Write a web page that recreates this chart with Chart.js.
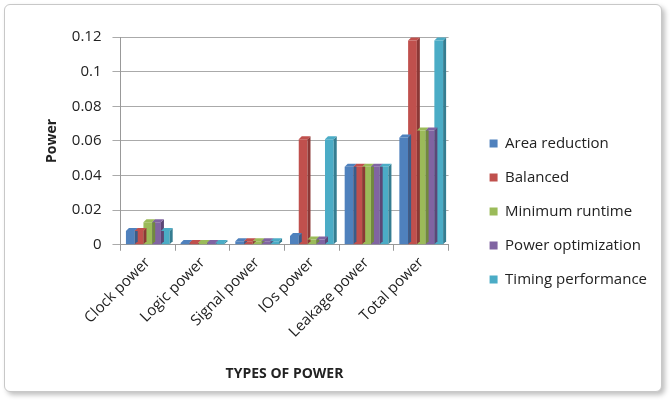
<!DOCTYPE html>
<html>
<head>
<meta charset="utf-8">
<script src="https://cdn.jsdelivr.net/npm/chart.js@4"></script>
<style>
  html, body { margin: 0; padding: 0; background: #fff; }
  #wrap {
    position: absolute; left: 4px; top: 4px; width: 656px; height: 386px;
    border: 1px solid #c8c8c8; border-radius: 6px;
    box-shadow: 3px 3px 5px rgba(0,0,0,0.25);
    background: #fff;
  }
  canvas { position: absolute; left: 0; top: 0; }
</style>
</head>
<body>
<div id="wrap"><canvas id="chart" width="656" height="386"></canvas></div>
<script>
const categories = ['Clock power', 'Logic power', 'Signal power', 'IOs power', 'Leakage power', 'Total power'];
const seriesNames = ['Area reduction', 'Balanced', 'Minimum runtime', 'Power optimization', 'Timing performance'];
const areaReduction = [0.008, 0.001, 0.002, 0.005, 0.045, 0.062];
const balanced = [0.008, 0.001, 0.002, 0.061, 0.045, 0.118];
const minimumRuntime = [0.013, 0.001, 0.002, 0.003, 0.045, 0.066];
const powerOptimization = [0.013, 0.001, 0.002, 0.003, 0.045, 0.066];
const timingPerformance = [0.008, 0.001, 0.002, 0.061, 0.045, 0.118];
const colors = ['#4f81bd', '#c0504d', '#9bbb59', '#8064a2', '#4bacc6'];
const darker = ['#385d8a', '#8c3836', '#71893f', '#5c4776', '#357d91'];

const allSeries = [areaReduction, balanced, minimumRuntime, powerOptimization, timingPerformance];
const font = 'Open Sans';

// fake 3D: draw a dark side and top on each bar
const depth3d = {
  id: 'depth3d',
  afterDatasetsDraw(chart) {
    const ctx = chart.ctx;
    const d = 3;
    chart.data.datasets.forEach((ds, i) => {
      chart.getDatasetMeta(i).data.forEach(bar => {
        const left = bar.x - bar.width / 2, right = bar.x + bar.width / 2;
        const top = bar.y, bottom = bar.base;
        ctx.save();
        ctx.fillStyle = darker[i];
        ctx.beginPath();
        ctx.moveTo(right, bottom);
        ctx.lineTo(right + d, bottom - d);
        ctx.lineTo(right + d, top - d);
        ctx.lineTo(right, top);
        ctx.closePath();
        ctx.fill();
        ctx.fillStyle = colors[i];
        ctx.beginPath();
        ctx.moveTo(left, top);
        ctx.lineTo(left + d, top - d);
        ctx.lineTo(right + d, top - d);
        ctx.lineTo(right, top);
        ctx.closePath();
        ctx.fill();
        ctx.restore();
      });
    });
  }
};

new Chart(document.getElementById('chart'), {
  type: 'bar',
  data: {
    labels: categories,
    datasets: allSeries.map((vals, i) => ({
      label: seriesNames[i],
      data: vals,
      backgroundColor: colors[i],
      borderWidth: 0
    }))
  },
  options: {
    responsive: false,
    animation: false,
    layout: { padding: { left: 35, right: 4, top: 32, bottom: 5 } },
    datasets: { bar: { categoryPercentage: 0.8, barPercentage: 1.0 } },
    plugins: {
      legend: {
        position: 'right',
        maxWidth: 260,
        labels: {
          boxWidth: 8, boxHeight: 8, padding: 19,
          color: '#222', font: { family: font, size: 15 }
        }
      },
      tooltip: { enabled: false }
    },
    scales: {
      x: {
        grid: { offset: true, drawOnChartArea: false, color: '#999', tickLength: 6 },
        border: { color: '#999' },
        ticks: { maxRotation: 45, minRotation: 45, color: '#222', font: { family: font, size: 15 } },
        title: { display: true, text: 'TYPES OF POWER', color: '#222', font: { family: font, size: 14, weight: 'bold' }, padding: { top: 21 } }
      },
      y: {
        min: 0, max: 0.12,
        ticks: {
          stepSize: 0.02, color: '#222', font: { family: font, size: 15 }, padding: 11,
          callback: v => String(+v.toFixed(2))
        },
        grid: { color: '#aaa', tickLength: 8 },
        border: { color: '#999' },
        title: { display: true, text: 'Power', color: '#222', font: { family: font, size: 14, weight: 'bold' }, padding: { bottom: 0 } }
      },
      // empty axis on the right, only to leave a gap before the legend
      gap: {
        type: 'linear', position: 'right',
        grid: { display: false }, border: { display: false },
        ticks: { display: false },
        afterFit: scale => { scale.width = 22; }
      }
    }
  },
  plugins: [depth3d]
});
</script>
</body>
</html>
